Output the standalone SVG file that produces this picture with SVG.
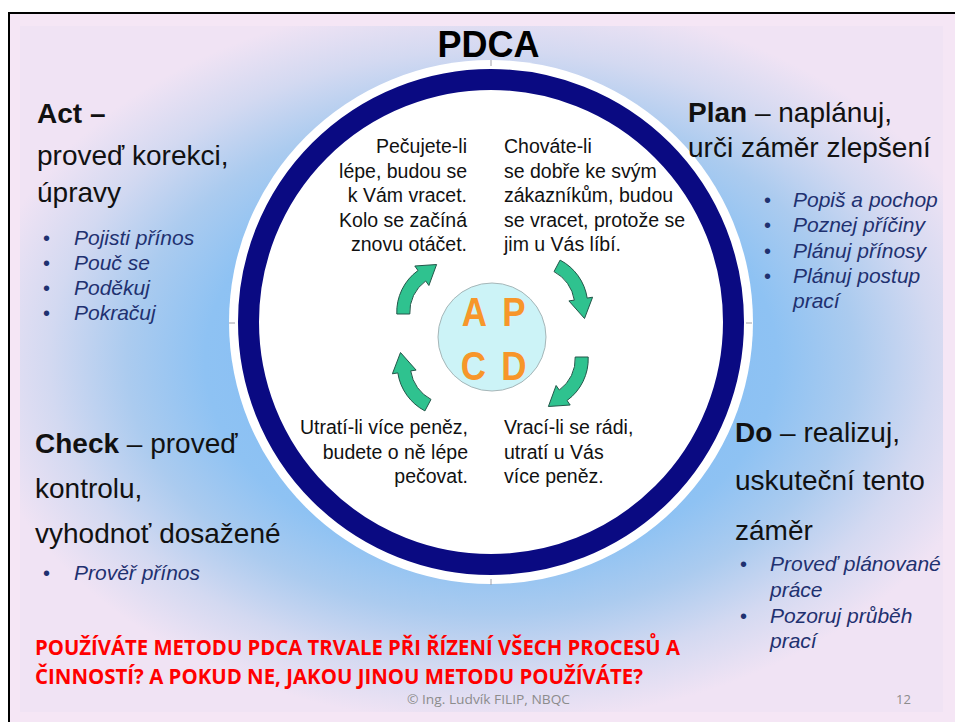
<svg xmlns="http://www.w3.org/2000/svg" xmlns:xlink="http://www.w3.org/1999/xlink" width="955" height="722" viewBox="0 0 955 722">
<defs>
<radialGradient id="glow" gradientUnits="userSpaceOnUse" cx="491" cy="360" r="520" gradientTransform="translate(491 360) scale(1 0.7) translate(-491 -360)">
<stop offset="0" stop-color="#7db9f5"/>
<stop offset="0.55" stop-color="#8ec2f3"/>
<stop offset="0.7" stop-color="#abcbef"/>
<stop offset="0.85" stop-color="#d3d9f1"/>
<stop offset="1" stop-color="#f0e3f4"/>
</radialGradient>
<path id="arrTR" d="M 560.1 260.1 A 51.8 51.8 0 0 1 587.2 298.1 L 592.6 297.2 L 584.5 318.5 L 568.9 300.9 L 574.3 300.1 A 38.8 38.8 0 0 0 554.0 271.6 Z"/>
<path id="arrTL" d="M 396.8 314 A 51.2 51.2 0 0 1 418.0 270.5 L 414.8 266.0 L 436.6 264.5 L 428.9 285.5 L 425.7 281.0 A 38.2 38.2 0 0 0 409.8 314 Z"/>
</defs>
<style>
text{font-family:"Liberation Sans",Arial,sans-serif;}
.big{font-size:28px;fill:#111;}
.b{font-weight:bold;}
.bul{font-size:21px;font-style:italic;fill:#1f3170;}
.dot{font-size:20px;fill:#1f3170;}
.inn{font-size:19.5px;fill:#111;}
.ltr{font-size:35px;font-weight:bold;fill:#f7962a;}
.arrow{fill:#2fc28f;stroke:#24574a;stroke-width:1;}
.red{font-family:"Open Sans","Liberation Sans",sans-serif;font-weight:bold;font-size:21px;fill:#ff0000;}
.foot{font-family:"Open Sans","Liberation Sans",sans-serif;font-size:13px;fill:#8c8c8c;}
.tick{stroke:#a0a0a8;stroke-width:1;}
</style>
<rect x="0" y="0" width="955" height="722" fill="#ffffff"/>
<rect x="9" y="13" width="960" height="720" fill="#f5e6f5" stroke="#000" stroke-width="2"/>
<rect x="20" y="26" width="923" height="686" fill="url(#glow)"/>

<g id="wheel">
<circle cx="491" cy="322" r="262" fill="#ffffff"/>
<circle cx="491" cy="322" r="242.5" fill="#ffffff" stroke="#0a0a82" stroke-width="21"/>
<line class="tick" x1="491" y1="60" x2="491" y2="66"/>
<line class="tick" x1="229" y1="323" x2="235" y2="323"/>
<line class="tick" x1="746" y1="323" x2="752" y2="323"/>
<line class="tick" x1="491" y1="579" x2="491" y2="585"/>
</g>

<g id="title"><text x="488.5" y="57" text-anchor="middle" font-size="36" font-weight="bold" fill="#000">PDCA</text></g>

<g id="hub">
<circle cx="492" cy="337" r="54" fill="#ccf3f7" stroke="#a6b6b8" stroke-width="1"/>
<text class="ltr" text-anchor="middle" transform="translate(474.5 326) scale(1 1.18)">A</text>
<text class="ltr" text-anchor="middle" transform="translate(514 326) scale(1 1.18)">P</text>
<text class="ltr" text-anchor="middle" transform="translate(473.5 380) scale(1 1.18)">C</text>
<text class="ltr" text-anchor="middle" transform="translate(514 380) scale(1 1.18)">D</text>
</g>

<g id="connectors">
<use xlink:href="#arrTL" class="arrow"/>
<use xlink:href="#arrTR" class="arrow"/>
<use xlink:href="#arrTL" class="arrow" transform="rotate(180 492.5 335.5)"/>
<use xlink:href="#arrTR" class="arrow" transform="rotate(180 492.5 335.5)"/>
</g>

<g id="inner-act">
<text class="inn" text-anchor="end" x="467" y="153">Pečujete-li</text>
<text class="inn" text-anchor="end" x="467" y="177.5">lépe, budou se</text>
<text class="inn" text-anchor="end" x="467" y="202">k Vám vracet.</text>
<text class="inn" text-anchor="end" x="467" y="226.5">Kolo se začíná</text>
<text class="inn" text-anchor="end" x="467" y="251">znovu otáčet.</text>
</g>
<g id="inner-plan">
<text class="inn" x="504" y="153">Chováte-li</text>
<text class="inn" x="504" y="177.5">se dobře ke svým</text>
<text class="inn" x="504" y="202">zákazníkům, budou</text>
<text class="inn" x="504" y="226.5">se vracet, protože se</text>
<text class="inn" x="504" y="251">jim u Vás líbí.</text>
</g>
<g id="inner-check">
<text class="inn" text-anchor="end" x="468" y="434">Utratí-li více peněz,</text>
<text class="inn" text-anchor="end" x="468" y="458.5">budete o ně lépe</text>
<text class="inn" text-anchor="end" x="468" y="483">pečovat.</text>
</g>
<g id="inner-do">
<text class="inn" x="504" y="434">Vrací-li se rádi,</text>
<text class="inn" x="504" y="458.5">utratí u Vás</text>
<text class="inn" x="504" y="483">více peněz.</text>
</g>

<g id="act">
<text class="big b" x="37" y="123">Act –</text>
<text class="big" x="37" y="165">proveď korekci,</text>
<text class="big" x="37" y="202">úpravy</text>
<text class="dot" x="43" y="245">•</text><text class="bul" x="74" y="245">Pojisti přínos</text>
<text class="dot" x="43" y="270">•</text><text class="bul" x="74" y="270">Pouč se</text>
<text class="dot" x="43" y="295">•</text><text class="bul" x="74" y="295">Poděkuj</text>
<text class="dot" x="43" y="320">•</text><text class="bul" x="74" y="320">Pokračuj</text>
</g>

<g id="plan">
<text class="big" x="688" y="122"><tspan class="b">Plan</tspan> – naplánuj,</text>
<text class="big" x="688" y="157">urči záměr zlepšení</text>
<text class="dot" x="764" y="207">•</text><text class="bul" x="793" y="207">Popiš a pochop</text>
<text class="dot" x="764" y="232">•</text><text class="bul" x="793" y="232">Poznej příčiny</text>
<text class="dot" x="764" y="258">•</text><text class="bul" x="793" y="258">Plánuj přínosy</text>
<text class="dot" x="764" y="283">•</text><text class="bul" x="793" y="283">Plánuj postup</text>
<text class="bul" x="793" y="308">prací</text>
</g>

<g id="check">
<text class="big" x="35" y="453"><tspan class="b">Check</tspan> – proveď</text>
<text class="big" x="35" y="498">kontrolu,</text>
<text class="big" x="35" y="543">vyhodnoť dosažené</text>
<text class="dot" x="43" y="580">•</text><text class="bul" x="74" y="580">Prověř přínos</text>
</g>

<g id="do">
<text class="big" x="735" y="442"><tspan class="b">Do</tspan> – realizuj,</text>
<text class="big" x="735" y="490">uskuteční tento</text>
<text class="big" x="735" y="540">záměr</text>
<text class="dot" x="740" y="571">•</text><text class="bul" x="770" y="571">Proveď plánované</text>
<text class="bul" x="770" y="597">práce</text>
<text class="dot" x="740" y="623">•</text><text class="bul" x="770" y="623">Pozoruj průběh</text>
<text class="bul" x="770" y="648">prací</text>
</g>

<g id="question">
<text class="red" x="35" y="655" textLength="645" lengthAdjust="spacingAndGlyphs">POUŽÍVÁTE METODU PDCA TRVALE PŘI ŘÍZENÍ VŠECH PROCESŮ A</text>
<text class="red" x="35" y="684" textLength="608" lengthAdjust="spacingAndGlyphs">ČINNOSTÍ? A POKUD NE, JAKOU JINOU METODU POUŽÍVÁTE?</text>
</g>

<g id="footer">
<text class="foot" x="407" y="704" textLength="163" lengthAdjust="spacingAndGlyphs">© Ing. Ludvík FILIP, NBQC</text>
<text class="foot" x="896" y="704">12</text>
</g>
</svg>
